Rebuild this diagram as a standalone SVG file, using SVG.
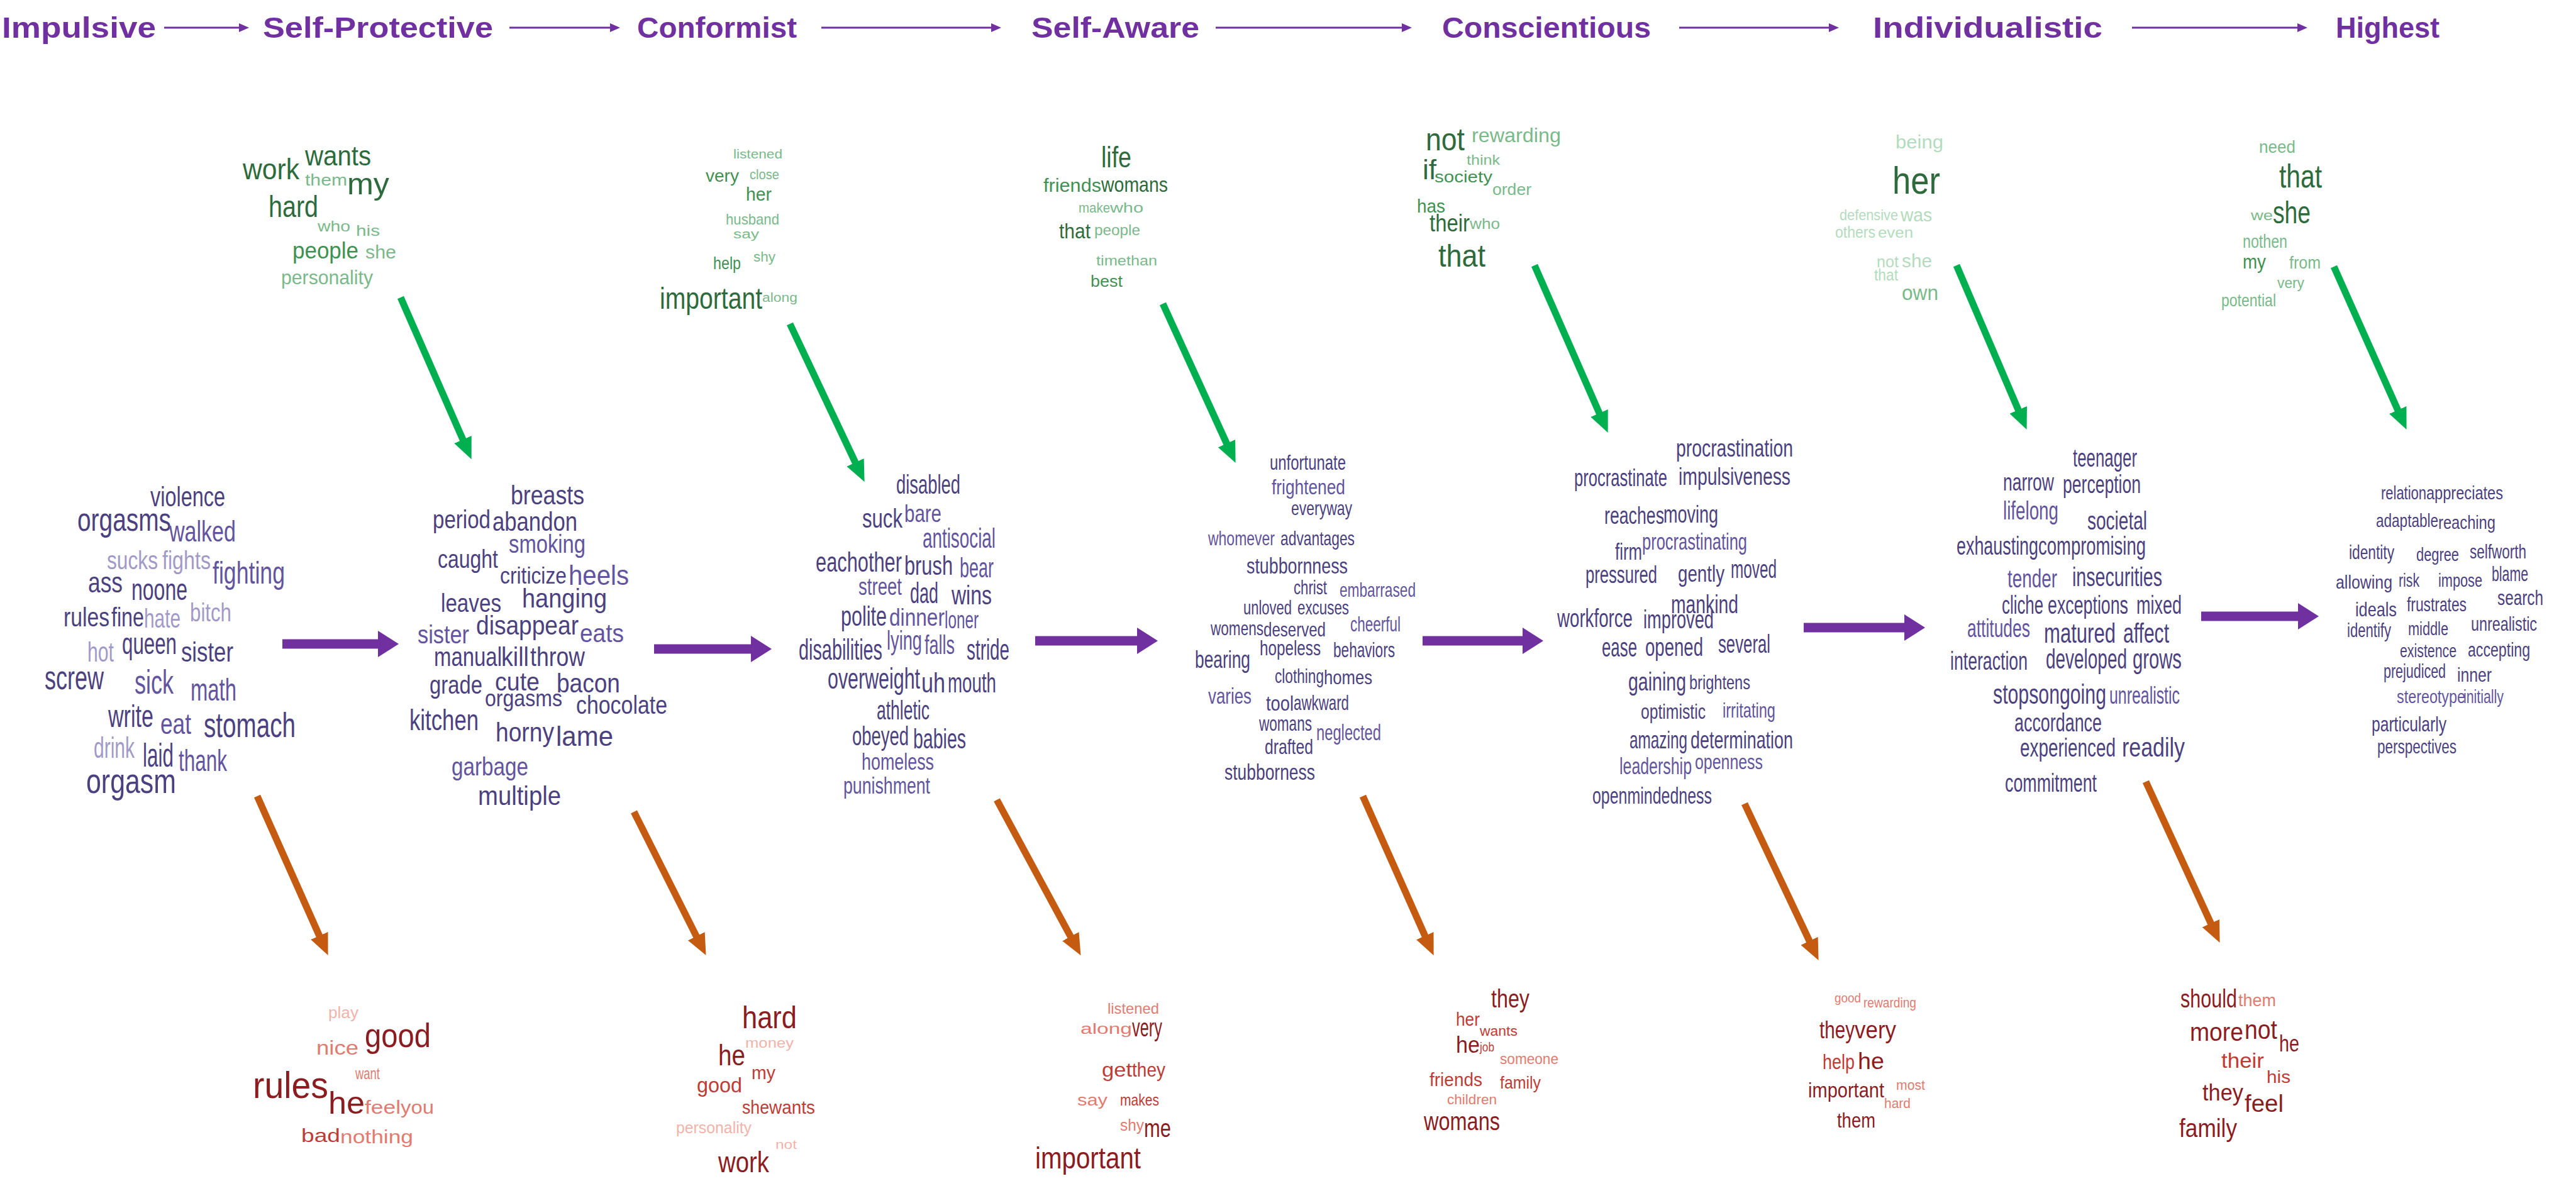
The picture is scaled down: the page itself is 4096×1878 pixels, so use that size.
<svg xmlns="http://www.w3.org/2000/svg" width="4096" height="1878" viewBox="0 0 4096 1878">
<style>
text{font-family:"Liberation Sans",Arial,sans-serif}
.h{font-weight:bold;font-size:46px;fill:#7030A0}
.pd{fill:#4b4180}.pm{fill:#62549e}.pl{fill:#a19ac8}
.gd{fill:#2e6b3c}.gm{fill:#3f9152}.gl{fill:#79b98a}.gv{fill:#b3dbbd}
.rd{fill:#8b1c1f}.rm{fill:#bf3b35}.rl{fill:#e27b6f}.rv{fill:#f1b3aa}
.ap{stroke:#7030A0;stroke-width:15;fill:none}
.ag{stroke:#00B050;stroke-width:11;fill:none}
.ao{stroke:#C55A11;stroke-width:11;fill:none}
.ah{stroke:#7030A0;stroke-width:3;fill:none}
</style>
<defs>
<marker id="mP" markerUnits="userSpaceOnUse" markerWidth="33" markerHeight="42" viewBox="0 0 33 42" refX="1" refY="21" orient="auto"><path d="M0,0 L33,21 L0,42 z" fill="#7030A0"/></marker>
<marker id="mG" markerUnits="userSpaceOnUse" markerWidth="34" markerHeight="30" viewBox="0 0 34 30" refX="1" refY="15" orient="auto"><path d="M0,0 L34,15 L0,30 z" fill="#00B050"/></marker>
<marker id="mO" markerUnits="userSpaceOnUse" markerWidth="34" markerHeight="30" viewBox="0 0 34 30" refX="1" refY="15" orient="auto"><path d="M0,0 L34,15 L0,30 z" fill="#C55A11"/></marker>
<marker id="mH" markerUnits="userSpaceOnUse" markerWidth="16" markerHeight="14" viewBox="0 0 16 14" refX="1" refY="7" orient="auto"><path d="M0,0 L16,7 L0,14 z" fill="#7030A0"/></marker>
</defs>
<rect width="4096" height="1878" fill="#ffffff"/>

<g id="header">
<g id="stage-impulsive"><text class="h" x="3" y="60" textLength="245" lengthAdjust="spacingAndGlyphs">Impulsive</text></g>
<g id="stage-self-protective"><text class="h" x="418" y="60" textLength="366" lengthAdjust="spacingAndGlyphs">Self-Protective</text></g>
<g id="stage-conformist"><text class="h" x="1013" y="60" textLength="254" lengthAdjust="spacingAndGlyphs">Conformist</text></g>
<g id="stage-self-aware"><text class="h" x="1640" y="60" textLength="267" lengthAdjust="spacingAndGlyphs">Self-Aware</text></g>
<g id="stage-conscientious"><text class="h" x="2293" y="60" textLength="332" lengthAdjust="spacingAndGlyphs">Conscientious</text></g>
<g id="stage-individualistic"><text class="h" x="2978" y="60" textLength="365" lengthAdjust="spacingAndGlyphs">Individualistic</text></g>
<g id="stage-highest"><text class="h" x="3714" y="60" textLength="165" lengthAdjust="spacingAndGlyphs">Highest</text></g>
</g>

<g id="cloud-impulsive">
<text x="239" y="805" font-size="44" textLength="119" lengthAdjust="spacingAndGlyphs" class="pd">violence</text>
<text x="123" y="844" font-size="52" textLength="149" lengthAdjust="spacingAndGlyphs" class="pd">orgasms</text>
<text x="269" y="861" font-size="47" textLength="106" lengthAdjust="spacingAndGlyphs" class="pm">walked</text>
<text x="170" y="905" font-size="40" textLength="81" lengthAdjust="spacingAndGlyphs" class="pl">sucks</text>
<text x="258" y="905" font-size="40" textLength="77" lengthAdjust="spacingAndGlyphs" class="pl">fights</text>
<text x="338" y="928" font-size="50" textLength="115" lengthAdjust="spacingAndGlyphs" class="pm">fighting</text>
<text x="140" y="942" font-size="47" textLength="55" lengthAdjust="spacingAndGlyphs" class="pd">ass</text>
<text x="209" y="954" font-size="48" textLength="89" lengthAdjust="spacingAndGlyphs" class="pd">noone</text>
<text x="101" y="996" font-size="43" textLength="73" lengthAdjust="spacingAndGlyphs" class="pd">rules</text>
<text x="177" y="996" font-size="43" textLength="52" lengthAdjust="spacingAndGlyphs" class="pd">fine</text>
<text x="229" y="998" font-size="43" textLength="58" lengthAdjust="spacingAndGlyphs" class="pl">hate</text>
<text x="302" y="988" font-size="41" textLength="66" lengthAdjust="spacingAndGlyphs" class="pl">bitch</text>
<text x="139" y="1052" font-size="45" textLength="42" lengthAdjust="spacingAndGlyphs" class="pl">hot</text>
<text x="194" y="1040" font-size="48" textLength="87" lengthAdjust="spacingAndGlyphs" class="pd">queen</text>
<text x="288" y="1052" font-size="45" textLength="83" lengthAdjust="spacingAndGlyphs" class="pd">sister</text>
<text x="71" y="1096" font-size="54" textLength="94" lengthAdjust="spacingAndGlyphs" class="pd">screw</text>
<text x="214" y="1103" font-size="54" textLength="62" lengthAdjust="spacingAndGlyphs" class="pm">sick</text>
<text x="303" y="1114" font-size="50" textLength="73" lengthAdjust="spacingAndGlyphs" class="pm">math</text>
<text x="172" y="1156" font-size="50" textLength="72" lengthAdjust="spacingAndGlyphs" class="pd">write</text>
<text x="255" y="1167" font-size="46" textLength="49" lengthAdjust="spacingAndGlyphs" class="pm">eat</text>
<text x="324" y="1172" font-size="56" textLength="146" lengthAdjust="spacingAndGlyphs" class="pd">stomach</text>
<text x="149" y="1205" font-size="47" textLength="65" lengthAdjust="spacingAndGlyphs" class="pl">drink</text>
<text x="227" y="1219" font-size="51" textLength="49" lengthAdjust="spacingAndGlyphs" class="pd">laid</text>
<text x="284" y="1226" font-size="48" textLength="77" lengthAdjust="spacingAndGlyphs" class="pm">thank</text>
<text x="137" y="1261" font-size="56" textLength="143" lengthAdjust="spacingAndGlyphs" class="pd">orgasm</text>
</g>

<g id="cloud-self-protective">
<text x="812" y="802" font-size="43" textLength="117" lengthAdjust="spacingAndGlyphs" class="pd">breasts</text>
<text x="688" y="840" font-size="40" textLength="92" lengthAdjust="spacingAndGlyphs" class="pd">period</text>
<text x="783" y="844" font-size="42" textLength="135" lengthAdjust="spacingAndGlyphs" class="pd">abandon</text>
<text x="809" y="879" font-size="41" textLength="122" lengthAdjust="spacingAndGlyphs" class="pm">smoking</text>
<text x="696" y="903" font-size="41" textLength="96" lengthAdjust="spacingAndGlyphs" class="pd">caught</text>
<text x="795" y="928" font-size="36" textLength="106" lengthAdjust="spacingAndGlyphs" class="pd">criticize</text>
<text x="904" y="930" font-size="45" textLength="96" lengthAdjust="spacingAndGlyphs" class="pm">heels</text>
<text x="701" y="973" font-size="41" textLength="96" lengthAdjust="spacingAndGlyphs" class="pd">leaves</text>
<text x="830" y="966" font-size="43" textLength="135" lengthAdjust="spacingAndGlyphs" class="pd">hanging</text>
<text x="664" y="1023" font-size="41" textLength="82" lengthAdjust="spacingAndGlyphs" class="pm">sister</text>
<text x="757" y="1009" font-size="42" textLength="163" lengthAdjust="spacingAndGlyphs" class="pd">disappear</text>
<text x="922" y="1021" font-size="41" textLength="70" lengthAdjust="spacingAndGlyphs" class="pm">eats</text>
<text x="690" y="1059" font-size="43" textLength="108" lengthAdjust="spacingAndGlyphs" class="pd">manual</text>
<text x="797" y="1059" font-size="43" textLength="44" lengthAdjust="spacingAndGlyphs" class="pd">kill</text>
<text x="843" y="1059" font-size="43" textLength="87" lengthAdjust="spacingAndGlyphs" class="pd">throw</text>
<text x="683" y="1103" font-size="41" textLength="84" lengthAdjust="spacingAndGlyphs" class="pd">grade</text>
<text x="787" y="1098" font-size="41" textLength="71" lengthAdjust="spacingAndGlyphs" class="pd">cute</text>
<text x="885" y="1101" font-size="43" textLength="101" lengthAdjust="spacingAndGlyphs" class="pd">bacon</text>
<text x="771" y="1123" font-size="37" textLength="123" lengthAdjust="spacingAndGlyphs" class="pd">orgasms</text>
<text x="916" y="1135" font-size="41" textLength="145" lengthAdjust="spacingAndGlyphs" class="pd">chocolate</text>
<text x="651" y="1161" font-size="46" textLength="110" lengthAdjust="spacingAndGlyphs" class="pd">kitchen</text>
<text x="788" y="1179" font-size="43" textLength="93" lengthAdjust="spacingAndGlyphs" class="pd">horny</text>
<text x="884" y="1186" font-size="45" textLength="91" lengthAdjust="spacingAndGlyphs" class="pd">lame</text>
<text x="718" y="1233" font-size="41" textLength="122" lengthAdjust="spacingAndGlyphs" class="pm">garbage</text>
<text x="760" y="1280" font-size="43" textLength="132" lengthAdjust="spacingAndGlyphs" class="pd">multiple</text>
</g>

<g id="cloud-conformist">
<text x="1425" y="785" font-size="42" textLength="102" lengthAdjust="spacingAndGlyphs" class="pd">disabled</text>
<text x="1371" y="839" font-size="42" textLength="64" lengthAdjust="spacingAndGlyphs" class="pd">suck</text>
<text x="1438" y="830" font-size="39" textLength="59" lengthAdjust="spacingAndGlyphs" class="pm">bare</text>
<text x="1467" y="871" font-size="44" textLength="116" lengthAdjust="spacingAndGlyphs" class="pm">antisocial</text>
<text x="1297" y="909" font-size="44" textLength="137" lengthAdjust="spacingAndGlyphs" class="pd">eachother</text>
<text x="1438" y="914" font-size="42" textLength="77" lengthAdjust="spacingAndGlyphs" class="pd">brush</text>
<text x="1526" y="918" font-size="44" textLength="54" lengthAdjust="spacingAndGlyphs" class="pm">bear</text>
<text x="1365" y="946" font-size="38" textLength="69" lengthAdjust="spacingAndGlyphs" class="pm">street</text>
<text x="1447" y="959" font-size="46" textLength="45" lengthAdjust="spacingAndGlyphs" class="pd">dad</text>
<text x="1513" y="961" font-size="42" textLength="64" lengthAdjust="spacingAndGlyphs" class="pd">wins</text>
<text x="1337" y="995" font-size="44" textLength="73" lengthAdjust="spacingAndGlyphs" class="pd">polite</text>
<text x="1414" y="995" font-size="39" textLength="88" lengthAdjust="spacingAndGlyphs" class="pm">dinner</text>
<text x="1502" y="999" font-size="39" textLength="54" lengthAdjust="spacingAndGlyphs" class="pm">loner</text>
<text x="1270" y="1049" font-size="46" textLength="133" lengthAdjust="spacingAndGlyphs" class="pd">disabilities</text>
<text x="1410" y="1033" font-size="42" textLength="56" lengthAdjust="spacingAndGlyphs" class="pm">lying</text>
<text x="1470" y="1040" font-size="42" textLength="48" lengthAdjust="spacingAndGlyphs" class="pm">falls</text>
<text x="1537" y="1049" font-size="46" textLength="68" lengthAdjust="spacingAndGlyphs" class="pd">stride</text>
<text x="1316" y="1095" font-size="46" textLength="147" lengthAdjust="spacingAndGlyphs" class="pd">overweight</text>
<text x="1465" y="1101" font-size="44" textLength="38" lengthAdjust="spacingAndGlyphs" class="pd">uh</text>
<text x="1507" y="1101" font-size="44" textLength="77" lengthAdjust="spacingAndGlyphs" class="pd">mouth</text>
<text x="1394" y="1144" font-size="42" textLength="84" lengthAdjust="spacingAndGlyphs" class="pd">athletic</text>
<text x="1355" y="1185" font-size="42" textLength="90" lengthAdjust="spacingAndGlyphs" class="pd">obeyed</text>
<text x="1452" y="1190" font-size="44" textLength="84" lengthAdjust="spacingAndGlyphs" class="pd">babies</text>
<text x="1370" y="1224" font-size="37" textLength="115" lengthAdjust="spacingAndGlyphs" class="pm">homeless</text>
<text x="1341" y="1262" font-size="37" textLength="138" lengthAdjust="spacingAndGlyphs" class="pm">punishment</text>
</g>

<g id="cloud-self-aware">
<text x="2019" y="747" font-size="33" textLength="121" lengthAdjust="spacingAndGlyphs" class="pd">unfortunate</text>
<text x="2022" y="786" font-size="34" textLength="117" lengthAdjust="spacingAndGlyphs" class="pm">frightened</text>
<text x="2053" y="819" font-size="32" textLength="97" lengthAdjust="spacingAndGlyphs" class="pd">everyway</text>
<text x="1921" y="867" font-size="31" textLength="106" lengthAdjust="spacingAndGlyphs" class="pm">whomever</text>
<text x="2036" y="867" font-size="32" textLength="118" lengthAdjust="spacingAndGlyphs" class="pd">advantages</text>
<text x="1982" y="912" font-size="35" textLength="161" lengthAdjust="spacingAndGlyphs" class="pd">stubbornness</text>
<text x="2057" y="945" font-size="32" textLength="53" lengthAdjust="spacingAndGlyphs" class="pd">christ</text>
<text x="2130" y="949" font-size="32" textLength="121" lengthAdjust="spacingAndGlyphs" class="pm">embarrased</text>
<text x="1977" y="977" font-size="32" textLength="77" lengthAdjust="spacingAndGlyphs" class="pd">unloved</text>
<text x="2063" y="977" font-size="32" textLength="82" lengthAdjust="spacingAndGlyphs" class="pd">excuses</text>
<text x="1925" y="1010" font-size="32" textLength="84" lengthAdjust="spacingAndGlyphs" class="pd">womens</text>
<text x="2009" y="1012" font-size="32" textLength="99" lengthAdjust="spacingAndGlyphs" class="pd">deserved</text>
<text x="2147" y="1004" font-size="33" textLength="80" lengthAdjust="spacingAndGlyphs" class="pm">cheerful</text>
<text x="2003" y="1042" font-size="33" textLength="97" lengthAdjust="spacingAndGlyphs" class="pd">hopeless</text>
<text x="2120" y="1045" font-size="33" textLength="98" lengthAdjust="spacingAndGlyphs" class="pd">behaviors</text>
<text x="1900" y="1062" font-size="38" textLength="88" lengthAdjust="spacingAndGlyphs" class="pd">bearing</text>
<text x="2027" y="1086" font-size="32" textLength="78" lengthAdjust="spacingAndGlyphs" class="pd">clothing</text>
<text x="2105" y="1088" font-size="32" textLength="77" lengthAdjust="spacingAndGlyphs" class="pd">homes</text>
<text x="1921" y="1119" font-size="35" textLength="69" lengthAdjust="spacingAndGlyphs" class="pm">varies</text>
<text x="2013" y="1130" font-size="33" textLength="44" lengthAdjust="spacingAndGlyphs" class="pd">tool</text>
<text x="2057" y="1129" font-size="33" textLength="88" lengthAdjust="spacingAndGlyphs" class="pd">awkward</text>
<text x="2002" y="1162" font-size="33" textLength="84" lengthAdjust="spacingAndGlyphs" class="pd">womans</text>
<text x="2093" y="1177" font-size="35" textLength="103" lengthAdjust="spacingAndGlyphs" class="pm">neglected</text>
<text x="2011" y="1199" font-size="34" textLength="77" lengthAdjust="spacingAndGlyphs" class="pd">drafted</text>
<text x="1947" y="1240" font-size="35" textLength="144" lengthAdjust="spacingAndGlyphs" class="pd">stubborness</text>
</g>

<g id="cloud-conscientious">
<text x="2665" y="726" font-size="38" textLength="186" lengthAdjust="spacingAndGlyphs" class="pd">procrastination</text>
<text x="2503" y="773" font-size="38" textLength="148" lengthAdjust="spacingAndGlyphs" class="pd">procrastinate</text>
<text x="2669" y="771" font-size="38" textLength="178" lengthAdjust="spacingAndGlyphs" class="pd">impulsiveness</text>
<text x="2551" y="833" font-size="39" textLength="95" lengthAdjust="spacingAndGlyphs" class="pd">reaches</text>
<text x="2645" y="831" font-size="39" textLength="87" lengthAdjust="spacingAndGlyphs" class="pd">moving</text>
<text x="2568" y="890" font-size="36" textLength="43" lengthAdjust="spacingAndGlyphs" class="pd">firm</text>
<text x="2611" y="874" font-size="37" textLength="167" lengthAdjust="spacingAndGlyphs" class="pm">procrastinating</text>
<text x="2521" y="927" font-size="38" textLength="114" lengthAdjust="spacingAndGlyphs" class="pd">pressured</text>
<text x="2668" y="925" font-size="37" textLength="74" lengthAdjust="spacingAndGlyphs" class="pd">gently</text>
<text x="2752" y="919" font-size="40" textLength="73" lengthAdjust="spacingAndGlyphs" class="pd">moved</text>
<text x="2657" y="975" font-size="41" textLength="107" lengthAdjust="spacingAndGlyphs" class="pd">mankind</text>
<text x="2476" y="997" font-size="40" textLength="120" lengthAdjust="spacingAndGlyphs" class="pd">workforce</text>
<text x="2613" y="999" font-size="40" textLength="112" lengthAdjust="spacingAndGlyphs" class="pd">improved</text>
<text x="2732" y="1038" font-size="40" textLength="83" lengthAdjust="spacingAndGlyphs" class="pd">several</text>
<text x="2547" y="1044" font-size="42" textLength="56" lengthAdjust="spacingAndGlyphs" class="pd">ease</text>
<text x="2616" y="1043" font-size="40" textLength="92" lengthAdjust="spacingAndGlyphs" class="pd">opened</text>
<text x="2589" y="1098" font-size="40" textLength="92" lengthAdjust="spacingAndGlyphs" class="pd">gaining</text>
<text x="2686" y="1096" font-size="32" textLength="97" lengthAdjust="spacingAndGlyphs" class="pd">brightens</text>
<text x="2609" y="1143" font-size="34" textLength="103" lengthAdjust="spacingAndGlyphs" class="pd">optimistic</text>
<text x="2739" y="1141" font-size="34" textLength="84" lengthAdjust="spacingAndGlyphs" class="pm">irritating</text>
<text x="2591" y="1190" font-size="39" textLength="92" lengthAdjust="spacingAndGlyphs" class="pd">amazing</text>
<text x="2688" y="1190" font-size="39" textLength="163" lengthAdjust="spacingAndGlyphs" class="pd">determination</text>
<text x="2575" y="1231" font-size="36" textLength="115" lengthAdjust="spacingAndGlyphs" class="pm">leadership</text>
<text x="2695" y="1223" font-size="34" textLength="108" lengthAdjust="spacingAndGlyphs" class="pm">openness</text>
<text x="2532" y="1278" font-size="37" textLength="190" lengthAdjust="spacingAndGlyphs" class="pd">openmindedness</text>
</g>

<g id="cloud-individualistic">
<text x="3296" y="742" font-size="40" textLength="102" lengthAdjust="spacingAndGlyphs" class="pd">teenager</text>
<text x="3185" y="780" font-size="38" textLength="81" lengthAdjust="spacingAndGlyphs" class="pd">narrow</text>
<text x="3280" y="784" font-size="40" textLength="124" lengthAdjust="spacingAndGlyphs" class="pd">perception</text>
<text x="3185" y="826" font-size="40" textLength="88" lengthAdjust="spacingAndGlyphs" class="pm">lifelong</text>
<text x="3319" y="842" font-size="41" textLength="95" lengthAdjust="spacingAndGlyphs" class="pd">societal</text>
<text x="3111" y="882" font-size="40" textLength="130" lengthAdjust="spacingAndGlyphs" class="pd">exhausting</text>
<text x="3241" y="882" font-size="40" textLength="171" lengthAdjust="spacingAndGlyphs" class="pd">compromising</text>
<text x="3192" y="934" font-size="40" textLength="79" lengthAdjust="spacingAndGlyphs" class="pm">tender</text>
<text x="3295" y="932" font-size="43" textLength="143" lengthAdjust="spacingAndGlyphs" class="pd">insecurities</text>
<text x="3183" y="976" font-size="40" textLength="66" lengthAdjust="spacingAndGlyphs" class="pd">cliche</text>
<text x="3256" y="976" font-size="40" textLength="128" lengthAdjust="spacingAndGlyphs" class="pd">exceptions</text>
<text x="3397" y="976" font-size="40" textLength="72" lengthAdjust="spacingAndGlyphs" class="pd">mixed</text>
<text x="3128" y="1013" font-size="40" textLength="100" lengthAdjust="spacingAndGlyphs" class="pm">attitudes</text>
<text x="3250" y="1022" font-size="45" textLength="114" lengthAdjust="spacingAndGlyphs" class="pd">matured</text>
<text x="3376" y="1022" font-size="45" textLength="73" lengthAdjust="spacingAndGlyphs" class="pd">affect</text>
<text x="3101" y="1065" font-size="40" textLength="123" lengthAdjust="spacingAndGlyphs" class="pd">interaction</text>
<text x="3253" y="1063" font-size="45" textLength="129" lengthAdjust="spacingAndGlyphs" class="pd">developed</text>
<text x="3391" y="1063" font-size="45" textLength="78" lengthAdjust="spacingAndGlyphs" class="pd">grows</text>
<text x="3169" y="1119" font-size="45" textLength="180" lengthAdjust="spacingAndGlyphs" class="pd">stopsongoing</text>
<text x="3354" y="1119" font-size="38" textLength="112" lengthAdjust="spacingAndGlyphs" class="pm">unrealistic</text>
<text x="3203" y="1163" font-size="40" textLength="139" lengthAdjust="spacingAndGlyphs" class="pd">accordance</text>
<text x="3212" y="1203" font-size="40" textLength="152" lengthAdjust="spacingAndGlyphs" class="pd">experienced</text>
<text x="3374" y="1203" font-size="42" textLength="100" lengthAdjust="spacingAndGlyphs" class="pd">readily</text>
<text x="3188" y="1259" font-size="40" textLength="146" lengthAdjust="spacingAndGlyphs" class="pd">commitment</text>
</g>

<g id="cloud-highest">
<text x="3786" y="794" font-size="30" textLength="72" lengthAdjust="spacingAndGlyphs" class="pd">relation</text>
<text x="3858" y="794" font-size="30" textLength="122" lengthAdjust="spacingAndGlyphs" class="pd">appreciates</text>
<text x="3778" y="838" font-size="30" textLength="99" lengthAdjust="spacingAndGlyphs" class="pd">adaptable</text>
<text x="3877" y="841" font-size="30" textLength="91" lengthAdjust="spacingAndGlyphs" class="pd">reaching</text>
<text x="3735" y="889" font-size="32" textLength="72" lengthAdjust="spacingAndGlyphs" class="pd">identity</text>
<text x="3842" y="892" font-size="29" textLength="68" lengthAdjust="spacingAndGlyphs" class="pd">degree</text>
<text x="3927" y="888" font-size="32" textLength="90" lengthAdjust="spacingAndGlyphs" class="pd">selfworth</text>
<text x="3714" y="936" font-size="30" textLength="90" lengthAdjust="spacingAndGlyphs" class="pd">allowing</text>
<text x="3814" y="933" font-size="29" textLength="33" lengthAdjust="spacingAndGlyphs" class="pd">risk</text>
<text x="3877" y="933" font-size="30" textLength="70" lengthAdjust="spacingAndGlyphs" class="pd">impose</text>
<text x="3962" y="924" font-size="33" textLength="58" lengthAdjust="spacingAndGlyphs" class="pd">blame</text>
<text x="3971" y="962" font-size="34" textLength="73" lengthAdjust="spacingAndGlyphs" class="pd">search</text>
<text x="3745" y="980" font-size="32" textLength="66" lengthAdjust="spacingAndGlyphs" class="pd">ideals</text>
<text x="3827" y="972" font-size="31" textLength="95" lengthAdjust="spacingAndGlyphs" class="pd">frustrates</text>
<text x="3732" y="1013" font-size="31" textLength="70" lengthAdjust="spacingAndGlyphs" class="pd">identify</text>
<text x="3829" y="1010" font-size="30" textLength="64" lengthAdjust="spacingAndGlyphs" class="pd">middle</text>
<text x="3929" y="1003" font-size="32" textLength="105" lengthAdjust="spacingAndGlyphs" class="pd">unrealistic</text>
<text x="3816" y="1045" font-size="30" textLength="90" lengthAdjust="spacingAndGlyphs" class="pd">existence</text>
<text x="3924" y="1044" font-size="31" textLength="99" lengthAdjust="spacingAndGlyphs" class="pd">accepting</text>
<text x="3790" y="1078" font-size="32" textLength="99" lengthAdjust="spacingAndGlyphs" class="pd">prejudiced</text>
<text x="3907" y="1084" font-size="32" textLength="55" lengthAdjust="spacingAndGlyphs" class="pd">inner</text>
<text x="3811" y="1118" font-size="29" textLength="109" lengthAdjust="spacingAndGlyphs" class="pm">stereotype</text>
<text x="3917" y="1118" font-size="29" textLength="64" lengthAdjust="spacingAndGlyphs" class="pm">initially</text>
<text x="3771" y="1163" font-size="34" textLength="119" lengthAdjust="spacingAndGlyphs" class="pd">particularly</text>
<text x="3780" y="1198" font-size="32" textLength="126" lengthAdjust="spacingAndGlyphs" class="pd">perspectives</text>
</g>

<g id="top-self-protective">
<text x="386" y="285" font-size="46" textLength="90" lengthAdjust="spacingAndGlyphs" class="gd">work</text>
<text x="485" y="263" font-size="44" textLength="105" lengthAdjust="spacingAndGlyphs" class="gd">wants</text>
<text x="485" y="295" font-size="26" textLength="67" lengthAdjust="spacingAndGlyphs" class="gl">them</text>
<text x="552" y="309" font-size="48" textLength="67" lengthAdjust="spacingAndGlyphs" class="gd">my</text>
<text x="427" y="345" font-size="48" textLength="79" lengthAdjust="spacingAndGlyphs" class="gd">hard</text>
<text x="505" y="368" font-size="24" textLength="52" lengthAdjust="spacingAndGlyphs" class="gl">who</text>
<text x="566" y="375" font-size="24" textLength="38" lengthAdjust="spacingAndGlyphs" class="gl">his</text>
<text x="465" y="411" font-size="36" textLength="105" lengthAdjust="spacingAndGlyphs" class="gm">people</text>
<text x="581" y="411" font-size="30" textLength="49" lengthAdjust="spacingAndGlyphs" class="gl">she</text>
<text x="447" y="452" font-size="32" textLength="146" lengthAdjust="spacingAndGlyphs" class="gl">personality</text>
</g>

<g id="top-conformist">
<text x="1166" y="252" font-size="20" textLength="78" lengthAdjust="spacingAndGlyphs" class="gl">listened</text>
<text x="1122" y="289" font-size="28" textLength="53" lengthAdjust="spacingAndGlyphs" class="gm">very</text>
<text x="1192" y="285" font-size="22" textLength="47" lengthAdjust="spacingAndGlyphs" class="gl">close</text>
<text x="1186" y="319" font-size="30" textLength="41" lengthAdjust="spacingAndGlyphs" class="gm">her</text>
<text x="1154" y="357" font-size="24" textLength="85" lengthAdjust="spacingAndGlyphs" class="gl">husband</text>
<text x="1166" y="379" font-size="20" textLength="41" lengthAdjust="spacingAndGlyphs" class="gl">say</text>
<text x="1134" y="428" font-size="28" textLength="44" lengthAdjust="spacingAndGlyphs" class="gm">help</text>
<text x="1198" y="416" font-size="22" textLength="35" lengthAdjust="spacingAndGlyphs" class="gl">shy</text>
<text x="1049" y="491" font-size="48" textLength="163" lengthAdjust="spacingAndGlyphs" class="gd">important</text>
<text x="1212" y="480" font-size="20" textLength="56" lengthAdjust="spacingAndGlyphs" class="gl">along</text>
</g>

<g id="top-self-aware">
<text x="1751" y="266" font-size="46" textLength="48" lengthAdjust="spacingAndGlyphs" class="gd">life</text>
<text x="1659" y="305" font-size="30" textLength="92" lengthAdjust="spacingAndGlyphs" class="gm">friends</text>
<text x="1751" y="305" font-size="34" textLength="106" lengthAdjust="spacingAndGlyphs" class="gd">womans</text>
<text x="1715" y="338" font-size="22" textLength="50" lengthAdjust="spacingAndGlyphs" class="gl">make</text>
<text x="1765" y="338" font-size="22" textLength="53" lengthAdjust="spacingAndGlyphs" class="gl">who</text>
<text x="1684" y="379" font-size="34" textLength="50" lengthAdjust="spacingAndGlyphs" class="gd">that</text>
<text x="1740" y="374" font-size="24" textLength="73" lengthAdjust="spacingAndGlyphs" class="gl">people</text>
<text x="1743" y="422" font-size="22" textLength="48" lengthAdjust="spacingAndGlyphs" class="gl">time</text>
<text x="1791" y="422" font-size="22" textLength="49" lengthAdjust="spacingAndGlyphs" class="gl">than</text>
<text x="1734" y="456" font-size="26" textLength="51" lengthAdjust="spacingAndGlyphs" class="gm">best</text>
</g>

<g id="top-conscientious">
<text x="2267" y="239" font-size="50" textLength="62" lengthAdjust="spacingAndGlyphs" class="gd">not</text>
<text x="2340" y="226" font-size="32" textLength="142" lengthAdjust="spacingAndGlyphs" class="gl">rewarding</text>
<text x="2262" y="285" font-size="44" textLength="22" lengthAdjust="spacingAndGlyphs" class="gd">if</text>
<text x="2332" y="262" font-size="22" textLength="53" lengthAdjust="spacingAndGlyphs" class="gl">think</text>
<text x="2281" y="290" font-size="26" textLength="92" lengthAdjust="spacingAndGlyphs" class="gm">society</text>
<text x="2373" y="310" font-size="26" textLength="62" lengthAdjust="spacingAndGlyphs" class="gl">order</text>
<text x="2253" y="338" font-size="30" textLength="45" lengthAdjust="spacingAndGlyphs" class="gm">has</text>
<text x="2273" y="368" font-size="38" textLength="64" lengthAdjust="spacingAndGlyphs" class="gd">their</text>
<text x="2337" y="364" font-size="24" textLength="48" lengthAdjust="spacingAndGlyphs" class="gl">who</text>
<text x="2287" y="424" font-size="50" textLength="75" lengthAdjust="spacingAndGlyphs" class="gd">that</text>
</g>

<g id="top-individualistic">
<text x="3014" y="236" font-size="30" textLength="76" lengthAdjust="spacingAndGlyphs" class="gv">being</text>
<text x="3009" y="308" font-size="62" textLength="76" lengthAdjust="spacingAndGlyphs" class="gd">her</text>
<text x="2925" y="350" font-size="24" textLength="93" lengthAdjust="spacingAndGlyphs" class="gv">defensive</text>
<text x="3022" y="352" font-size="30" textLength="50" lengthAdjust="spacingAndGlyphs" class="gv">was</text>
<text x="2918" y="378" font-size="26" textLength="64" lengthAdjust="spacingAndGlyphs" class="gv">others</text>
<text x="2986" y="378" font-size="24" textLength="56" lengthAdjust="spacingAndGlyphs" class="gv">even</text>
<text x="2984" y="425" font-size="26" textLength="35" lengthAdjust="spacingAndGlyphs" class="gv">not</text>
<text x="3024" y="425" font-size="30" textLength="48" lengthAdjust="spacingAndGlyphs" class="gv">she</text>
<text x="2980" y="446" font-size="26" textLength="38" lengthAdjust="spacingAndGlyphs" class="gv">that</text>
<text x="3024" y="477" font-size="34" textLength="58" lengthAdjust="spacingAndGlyphs" class="gl">own</text>
</g>

<g id="top-highest">
<text x="3592" y="243" font-size="28" textLength="58" lengthAdjust="spacingAndGlyphs" class="gl">need</text>
<text x="3624" y="298" font-size="52" textLength="68" lengthAdjust="spacingAndGlyphs" class="gd">that</text>
<text x="3579" y="350" font-size="22" textLength="35" lengthAdjust="spacingAndGlyphs" class="gl">we</text>
<text x="3614" y="355" font-size="50" textLength="60" lengthAdjust="spacingAndGlyphs" class="gd">she</text>
<text x="3566" y="394" font-size="30" textLength="71" lengthAdjust="spacingAndGlyphs" class="gl">nothen</text>
<text x="3566" y="427" font-size="32" textLength="37" lengthAdjust="spacingAndGlyphs" class="gm">my</text>
<text x="3640" y="427" font-size="28" textLength="50" lengthAdjust="spacingAndGlyphs" class="gl">from</text>
<text x="3621" y="458" font-size="24" textLength="43" lengthAdjust="spacingAndGlyphs" class="gl">very</text>
<text x="3532" y="487" font-size="28" textLength="87" lengthAdjust="spacingAndGlyphs" class="gl">potential</text>
</g>

<g id="bottom-self-protective">
<text x="522" y="1619" font-size="26" textLength="48" lengthAdjust="spacingAndGlyphs" class="rv">play</text>
<text x="580" y="1665" font-size="54" textLength="105" lengthAdjust="spacingAndGlyphs" class="rd">good</text>
<text x="503" y="1677" font-size="32" textLength="67" lengthAdjust="spacingAndGlyphs" class="rl">nice</text>
<text x="565" y="1716" font-size="26" textLength="39" lengthAdjust="spacingAndGlyphs" class="rl">want</text>
<text x="402" y="1746" font-size="60" textLength="120" lengthAdjust="spacingAndGlyphs" class="rd">rules</text>
<text x="522" y="1771" font-size="50" textLength="58" lengthAdjust="spacingAndGlyphs" class="rd">he</text>
<text x="580" y="1771" font-size="30" textLength="57" lengthAdjust="spacingAndGlyphs" class="rl">feel</text>
<text x="637" y="1771" font-size="30" textLength="53" lengthAdjust="spacingAndGlyphs" class="rl">you</text>
<text x="479" y="1816" font-size="30" textLength="62" lengthAdjust="spacingAndGlyphs" class="rm">bad</text>
<text x="541" y="1818" font-size="30" textLength="116" lengthAdjust="spacingAndGlyphs" class="rl">nothing</text>
</g>

<g id="bottom-conformist">
<text x="1180" y="1635" font-size="50" textLength="87" lengthAdjust="spacingAndGlyphs" class="rd">hard</text>
<text x="1185" y="1666" font-size="22" textLength="77" lengthAdjust="spacingAndGlyphs" class="rv">money</text>
<text x="1142" y="1694" font-size="46" textLength="43" lengthAdjust="spacingAndGlyphs" class="rd">he</text>
<text x="1195" y="1716" font-size="30" textLength="38" lengthAdjust="spacingAndGlyphs" class="rm">my</text>
<text x="1108" y="1737" font-size="34" textLength="72" lengthAdjust="spacingAndGlyphs" class="rm">good</text>
<text x="1180" y="1771" font-size="30" textLength="43" lengthAdjust="spacingAndGlyphs" class="rm">she</text>
<text x="1223" y="1771" font-size="30" textLength="73" lengthAdjust="spacingAndGlyphs" class="rm">wants</text>
<text x="1075" y="1802" font-size="26" textLength="120" lengthAdjust="spacingAndGlyphs" class="rv">personality</text>
<text x="1233" y="1827" font-size="20" textLength="34" lengthAdjust="spacingAndGlyphs" class="rv">not</text>
<text x="1142" y="1864" font-size="46" textLength="81" lengthAdjust="spacingAndGlyphs" class="rd">work</text>
</g>

<g id="bottom-self-aware">
<text x="1761" y="1612" font-size="24" textLength="82" lengthAdjust="spacingAndGlyphs" class="rl">listened</text>
<text x="1718" y="1644" font-size="24" textLength="82" lengthAdjust="spacingAndGlyphs" class="rl">along</text>
<text x="1800" y="1648" font-size="40" textLength="48" lengthAdjust="spacingAndGlyphs" class="rd">very</text>
<text x="1752" y="1712" font-size="32" textLength="48" lengthAdjust="spacingAndGlyphs" class="rm">get</text>
<text x="1800" y="1712" font-size="32" textLength="53" lengthAdjust="spacingAndGlyphs" class="rm">they</text>
<text x="1713" y="1758" font-size="26" textLength="48" lengthAdjust="spacingAndGlyphs" class="rl">say</text>
<text x="1781" y="1758" font-size="26" textLength="62" lengthAdjust="spacingAndGlyphs" class="rm">makes</text>
<text x="1781" y="1798" font-size="26" textLength="38" lengthAdjust="spacingAndGlyphs" class="rl">shy</text>
<text x="1819" y="1808" font-size="40" textLength="43" lengthAdjust="spacingAndGlyphs" class="rd">me</text>
<text x="1646" y="1858" font-size="48" textLength="168" lengthAdjust="spacingAndGlyphs" class="rd">important</text>
</g>

<g id="bottom-conscientious">
<text x="2371" y="1602" font-size="40" textLength="61" lengthAdjust="spacingAndGlyphs" class="rd">they</text>
<text x="2315" y="1631" font-size="30" textLength="38" lengthAdjust="spacingAndGlyphs" class="rm">her</text>
<text x="2353" y="1647" font-size="22" textLength="60" lengthAdjust="spacingAndGlyphs" class="rm">wants</text>
<text x="2315" y="1674" font-size="36" textLength="38" lengthAdjust="spacingAndGlyphs" class="rd">he</text>
<text x="2353" y="1672" font-size="20" textLength="23" lengthAdjust="spacingAndGlyphs" class="rm">job</text>
<text x="2385" y="1692" font-size="24" textLength="93" lengthAdjust="spacingAndGlyphs" class="rl">someone</text>
<text x="2273" y="1727" font-size="30" textLength="84" lengthAdjust="spacingAndGlyphs" class="rm">friends</text>
<text x="2385" y="1731" font-size="28" textLength="65" lengthAdjust="spacingAndGlyphs" class="rm">family</text>
<text x="2301" y="1756" font-size="22" textLength="79" lengthAdjust="spacingAndGlyphs" class="rl">children</text>
<text x="2264" y="1797" font-size="40" textLength="121" lengthAdjust="spacingAndGlyphs" class="rd">womans</text>
</g>

<g id="bottom-individualistic">
<text x="2917" y="1594" font-size="20" textLength="42" lengthAdjust="spacingAndGlyphs" class="rl">good</text>
<text x="2963" y="1602" font-size="22" textLength="84" lengthAdjust="spacingAndGlyphs" class="rl">rewarding</text>
<text x="2893" y="1651" font-size="38" textLength="56" lengthAdjust="spacingAndGlyphs" class="rd">they</text>
<text x="2949" y="1651" font-size="38" textLength="66" lengthAdjust="spacingAndGlyphs" class="rd">very</text>
<text x="2898" y="1700" font-size="34" textLength="51" lengthAdjust="spacingAndGlyphs" class="rm">help</text>
<text x="2954" y="1700" font-size="36" textLength="42" lengthAdjust="spacingAndGlyphs" class="rd">he</text>
<text x="3015" y="1733" font-size="22" textLength="46" lengthAdjust="spacingAndGlyphs" class="rl">most</text>
<text x="2875" y="1745" font-size="34" textLength="121" lengthAdjust="spacingAndGlyphs" class="rd">important</text>
<text x="2996" y="1762" font-size="22" textLength="42" lengthAdjust="spacingAndGlyphs" class="rl">hard</text>
<text x="2921" y="1793" font-size="34" textLength="61" lengthAdjust="spacingAndGlyphs" class="rd">them</text>
</g>

<g id="bottom-highest">
<text x="3467" y="1602" font-size="40" textLength="90" lengthAdjust="spacingAndGlyphs" class="rd">should</text>
<text x="3559" y="1600" font-size="28" textLength="60" lengthAdjust="spacingAndGlyphs" class="rl">them</text>
<text x="3482" y="1655" font-size="40" textLength="85" lengthAdjust="spacingAndGlyphs" class="rd">more</text>
<text x="3569" y="1652" font-size="42" textLength="52" lengthAdjust="spacingAndGlyphs" class="rd">not</text>
<text x="3624" y="1672" font-size="36" textLength="32" lengthAdjust="spacingAndGlyphs" class="rd">he</text>
<text x="3532" y="1698" font-size="34" textLength="68" lengthAdjust="spacingAndGlyphs" class="rm">their</text>
<text x="3604" y="1722" font-size="28" textLength="38" lengthAdjust="spacingAndGlyphs" class="rm">his</text>
<text x="3502" y="1750" font-size="36" textLength="65" lengthAdjust="spacingAndGlyphs" class="rd">they</text>
<text x="3569" y="1768" font-size="38" textLength="62" lengthAdjust="spacingAndGlyphs" class="rd">feel</text>
<text x="3465" y="1808" font-size="40" textLength="92" lengthAdjust="spacingAndGlyphs" class="rd">family</text>
</g>

<g id="connectors">
<line class="ah" x1="261" y1="44" x2="381" y2="44" marker-end="url(#mH)"/>
<line class="ah" x1="810" y1="44" x2="971" y2="44" marker-end="url(#mH)"/>
<line class="ah" x1="1306" y1="44" x2="1577" y2="44" marker-end="url(#mH)"/>
<line class="ah" x1="1933" y1="44" x2="2230" y2="44" marker-end="url(#mH)"/>
<line class="ah" x1="2670" y1="44" x2="2909" y2="44" marker-end="url(#mH)"/>
<line class="ah" x1="3390" y1="44" x2="3654" y2="44" marker-end="url(#mH)"/>

<line class="ap" x1="449" y1="1024" x2="602" y2="1024" marker-end="url(#mP)"/>
<line class="ap" x1="1040" y1="1032" x2="1195" y2="1032" marker-end="url(#mP)"/>
<line class="ap" x1="1646" y1="1019" x2="1809" y2="1019" marker-end="url(#mP)"/>
<line class="ap" x1="2262" y1="1019" x2="2422" y2="1019" marker-end="url(#mP)"/>
<line class="ap" x1="2868" y1="998" x2="3029" y2="998" marker-end="url(#mP)"/>
<line class="ap" x1="3500" y1="980" x2="3655" y2="980" marker-end="url(#mP)"/>

<line class="ag" x1="637" y1="473" x2="736.4" y2="699.9" marker-end="url(#mG)"/>
<line class="ag" x1="1256" y1="515" x2="1360.5" y2="736.3" marker-end="url(#mG)"/>
<line class="ag" x1="1849" y1="483" x2="1950.9" y2="706.1" marker-end="url(#mG)"/>
<line class="ag" x1="2440" y1="422" x2="2543.4" y2="657.9" marker-end="url(#mG)"/>
<line class="ag" x1="3111" y1="422" x2="3209.6" y2="652.7" marker-end="url(#mG)"/>
<line class="ag" x1="3711" y1="424" x2="3813.1" y2="652.9" marker-end="url(#mG)"/>

<line class="ao" x1="409" y1="1266" x2="508.2" y2="1488.9" marker-end="url(#mO)"/>
<line class="ao" x1="1008" y1="1291" x2="1107.7" y2="1489.6" marker-end="url(#mO)"/>
<line class="ao" x1="1585" y1="1272" x2="1702.8" y2="1490.1" marker-end="url(#mO)"/>
<line class="ao" x1="2167" y1="1266" x2="2266.2" y2="1489" marker-end="url(#mO)"/>
<line class="ao" x1="2774" y1="1278" x2="2877.5" y2="1497.2" marker-end="url(#mO)"/>
<line class="ao" x1="3412" y1="1243" x2="3515.8" y2="1469.1" marker-end="url(#mO)"/>
</g>
</svg>
